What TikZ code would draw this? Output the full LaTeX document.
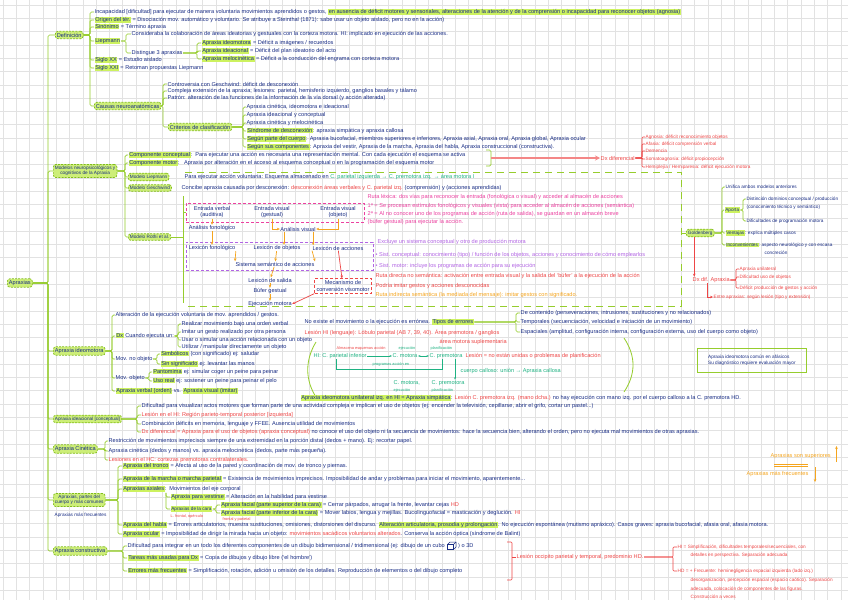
\documentclass[tikz,border=0pt]{standalone}
\usepackage{fontspec}
\setmainfont{Liberation Sans}
\usetikzlibrary{arrows.meta,calc}
\definecolor{ink}{RGB}{24,44,132}
\definecolor{gline}{RGB}{150,205,45}
\definecolor{gbd}{RGB}{130,190,25}
\definecolor{gbox}{RGB}{205,238,120}
\definecolor{hlc}{RGB}{205,242,95}
\definecolor{rd}{RGB}{238,70,70}
\definecolor{pk}{RGB}{236,64,160}
\definecolor{pu}{RGB}{178,100,228}
\definecolor{org}{RGB}{245,165,30}
\definecolor{teal2}{RGB}{30,178,130}
\definecolor{gridc}{RGB}{226,226,226}
\newcommand{\fz}{\fontsize{5.6}{6.6}\selectfont}
\newcommand{\fzs}{\fontsize{4.7}{5.5}\selectfont}
\newcommand{\fzt}{\fontsize{3.9}{4.6}\selectfont}
\newcommand{\hlt}[1]{{\setlength{\fboxsep}{0.6pt}\colorbox{hlc}{#1}}}
\begin{document}
\begin{tikzpicture}[x=1pt,y=-1pt,
 tx/.style={anchor=west,inner sep=0.5pt,text=ink,font=\fz,align=left},
 bx/.style={anchor=west,draw=gbd,dash pattern=on 2pt off 1.2pt,fill=gbox,rounded corners=2.5pt,inner sep=1.6pt,text=ink,font=\fz,align=center,line width=0.7pt},
 br/.style={draw=gline,line width=0.7pt,rounded corners=1.5pt},
 rbr/.style={draw=rd,line width=0.6pt,rounded corners=1pt},
 oa/.style={draw=org,line width=0.7pt,-{Stealth[length=3pt,width=2.6pt]}},
 ra/.style={draw=rd,line width=0.7pt,-{Stealth[length=3pt,width=2.6pt]}},
 ta/.style={draw=teal2,line width=0.6pt},
 rtx/.style={inner sep=0.4pt,text=ink,font=\fz,align=center}]
\useasboundingbox (0,0) rectangle (848,600);
\fill[white] (0,0) rectangle (848,600);
\foreach \i in {0,...,63} \draw[gridc,line width=0.5pt] ({3+13.3*\i},0) -- ({3+13.3*\i},600);
\foreach \i in {0,...,45} \draw[gridc,line width=0.5pt] (0,{5+13.3*\i}) -- (848,{5+13.3*\i});

% ---------------- trunk
\node[bx] (apx) at (7,283) {Apraxias};
\coordinate (bT) at (48,0);
\node[bx] (def) at (55,35) {Definición};
\node[bx,font=\fzs] (mod) at (53,171) {Modelos neuropsicológicos y\\cognitivos de la Apraxia};
\node[bx] (ideo) at (53,351) {Apraxia ideomotora};
\node[bx,font=\fzs] (idea) at (53,419) {Apraxia ideacional [conceptual]};
\node[bx] (cin) at (53,449) {Apraxia Cinética};
\node[bx,font=\fzs] (part) at (53,500) {Apraxias, partes del\\cuerpo y más comunes};
\node[tx,font=\fzs] (partb) at (54,515) {Apraxias más frecuentes};
\node[bx] (cons) at (53,551) {Apraxia constructiva};
\foreach \c in {def,mod,ideo,idea,cin,part,cons} \draw[br] (apx.east) -- (apx.east -| bT) |- (\c.west);

% ---------------- Definicion
\coordinate (bDef) at (90,0);
\node[tx] (d1) at (94,12) {Incapacidad [dificultad] para ejecutar de manera voluntaria movimientos aprendidos o gestos, \hlt{en ausencia de déficit motores y sensoriales, alteraciones de la atención y de la comprensión o incapacidad para reconocer objetos (agnosia)}};
\node[tx] (d2) at (94,20) {\hlt{Origen del tér.} = Disociación mov. automático y voluntario. Se atribuye a Steinthal (1871): sabe usar un objeto aislado, pero no en la acción)};
\node[tx] (d3) at (94,27) {\hlt{Sinónimo} = Término apraxia};
\node[tx] (d4) at (94,41) {\hlt{Liepmann}};
\node[tx] (d5) at (94,60) {\hlt{Siglo XX} = Estudio aislado};
\node[tx] (d6) at (94,68) {\hlt{Siglo XXI} = Retoman propuestas Liepmann};
\node[bx] (caus) at (94,106) {Causas neuroanatómicas};
\foreach \c in {d1,d2,d3,d4,d5,d6,caus} \draw[br] (def.east) -- (def.east -| bDef) |- (\c.west);

\coordinate (bLie) at (126,0);
\node[tx] (l1) at (131,34) {Consideraba la colaboración de áreas ideatorias y gestuales con la corteza motora. HI: implicado en ejecución de las acciones.};
\node[tx] (l2) at (131,53) {Distingue 3 apraxias};
\foreach \c in {l1,l2} \draw[br] (d4.east) -- (d4.east -| bLie) |- (\c.west);
\coordinate (bL2) at (197,0);
\node[tx] (l21) at (201,43) {\hlt{Apraxia ideomotora} = Déficit a imágenes / recuerdos};
\node[tx] (l22) at (201,51) {\hlt{Apraxia ideacional} = Déficit del plan ideatorio del acto};
\node[tx] (l23) at (201,59) {\hlt{Apraxia melocinética} = Déficit a la conducción del engrama con corteza motora};
\foreach \c in {l21,l22,l23} \draw[br] (l2.east) -- (l2.east -| bL2) |- (\c.west);

\coordinate (bCau) at (163,0);
\node[tx] (c1) at (167,84) {Controversia con Geschwind: déficit de desconexión};
\node[tx] (c2) at (167,91) {Compleja extensión de la apraxia; lesiones: parietal, hemisferio izquierdo, ganglios basales y tálamo};
\node[tx] (c3) at (167,98) {Patrón: alteración de las funciones de la información de la vía dorsal (y acción alterada)};
\node[bx] (crit) at (168,127) {Criterios de clasificación};
\foreach \c in {c1,c2,c3,crit} \draw[br] (caus.east) -- (caus.east -| bCau) |- (\c.west);

\coordinate (bCri) at (243,0);
\node[tx] (k1) at (246,107) {Apraxia cinética, ideomotora e ideacional};
\node[tx] (k2) at (246,115) {Apraxia ideacional y conceptual};
\node[tx] (k3) at (246,123) {Apraxia cinética y melocinética};
\node[tx] (k4) at (246,131) {\hlt{Síndrome de desconexión}: apraxia simpática y apraxia callosa};
\node[tx] (k5) at (246,139) {\hlt{Según parte del cuerpo}: Apraxia bucofacial, miembros superiores e inferiores, Apraxia axial, Apraxia oral, Apraxia global, Apraxia ocular};
\node[tx] (k6) at (246,147) {\hlt{Según sus componentes}: Apraxia del vestir, Apraxia de la marcha, Apraxia del habla, Apraxia construccional (constructiva).};
\foreach \c in {k1,k2,k3,k4,k5,k6} \draw[br] (crit.east) -- (crit.east -| bCri) |- (\c.west);

% ---------------- Modelos
\coordinate (bMod) at (125,0);
\node[tx] (m1) at (128,155) {\hlt{Componente conceptual}:\ \ Para ejecutar una acción es necesaria una representación mental. Con cada ejecución el esquema se activa};
\node[tx] (m2) at (128,163) {\hlt{Componente motor}:\ \ \ Apraxia por alteración en el acceso al esquema conceptual o en la programación del esquema motor};
\node[bx,font=\fzs] (mL) at (128,177) {Modelo Liepmann};
\node[tx] (mL1) at (184,177) {Para ejecutar acción voluntaria: Esquema almacenado en {\color{teal2}C. parietal izquierda → C. premotora izq. → área motora I}};
\node[bx,font=\fzs] (mG) at (128,188) {Modelo Geschwind};
\node[tx] (mG1) at (181,188) {Concibe apraxia causada por desconexión: {\color{rd}desconexión áreas verbales y C. parietal izq.} (comprensión) y (acciones aprendidas)};
\node[bx,font=\fzs] (mR) at (128,237) {Modelo Rothi et al.};
\foreach \c in {m1,m2,mL,mG,mR} \draw[br] (mod.east) -- (mod.east -| bMod) |- (\c.west);

% bracket -> Dx diferencial
\coordinate (bk1) at (486,150);
\coordinate (bkm) at (491,158);
\draw[br] (bk1) -- ++(5,0) -- ++(0,16) -- ++(-5,0);
\node[tx,text=rd] (dxd) at (600,158) {Dx diferencial};
\draw[draw=rd!65,line width=1.4pt,-{Stealth[length=5pt,width=5pt]}] (bkm) -- (dxd.west);
\coordinate (bDx) at (642,0);
\node[tx,font=\fzs,text=rd] (x1) at (645,137) {Agnosia: déficit reconocimiento objetos};
\node[tx,font=\fzs,text=rd] (x2) at (645,144) {Afasia: déficit comprensión verbal};
\node[tx,font=\fzs,text=rd] (x3) at (645,151) {Demencia};
\node[tx,font=\fzs,text=rd] (x4) at (645,159) {Somatoagnosia: déficit propiocepción};
\node[tx,font=\fzs,text=rd] (x5) at (645,167) {Hemiplejía / Hemiparesia: déficit ejecución motora};
\foreach \c in {x1,x2,x3,x4,x5} \draw[rbr] (dxd.east) -- (dxd.east -| bDx) |- (\c.west);

% ---------------- Rothi region
\draw[draw=gline,line width=0.9pt,dash pattern=on 7pt off 5pt] (185,172) -- (681,172) -- (681,306) -- (185,306);
\coordinate (rTop) at (183,196);
\coordinate (rBot) at (183,303);
\draw[br] (rTop) -- (rBot);
\draw[br] (mR.east) -- (mR.east -| rTop);
\node[draw=pk,line width=0.6pt,dash pattern=on 3pt off 2pt,minimum width=178pt,minimum height=19pt,anchor=north west,inner sep=0pt] (pbox) at (186,203) {};
\draw[br] (rTop |- pbox.west) -- (pbox.west);
\node[draw=pu,line width=0.6pt,dash pattern=on 3pt off 2pt,minimum width=187pt,minimum height=28pt,anchor=north west,inner sep=0pt] (ubox) at (186,242) {};
\node[rtx] (ev) at (212,212) {Entrada verbal\\(auditiva)};
\node[rtx] (eg) at (272,212) {Entrada visual\\(gestual)};
\node[rtx] (eo) at (338,212) {Entrada visual\\(objeto)};
\node[rtx] (af) at (212,228) {Análisis fonológico};
\node[rtx] (av) at (298,229) {Análisis visual};
\node[rtx] (lf) at (212,248) {Lexicón fonológico};
\node[rtx] (lo) at (277,248) {Lexicón de objetos};
\node[rtx] (la) at (338,248) {Lexicón de acciones};
\node[rtx] (ss) at (275,264) {Sistema semántico de acciones};
\node[rtx] (ls) at (270,280) {Lexicón de salida};
\node[rtx] (bg) at (270,291) {Búfer gestual};
\node[rtx] (em) at (270,304) {Ejecución motora};
\node[rtx,draw=rd,dash pattern=on 3pt off 2pt,line width=0.6pt,inner sep=2pt] (cv) at (343,286) {Mecanismo de\\conversión visomotor};
\draw[oa] (ev) -- (af);
\draw[oa] (eg.south) |- (av.west);
\draw[oa] (eo.south) |- (av.east);
\draw[oa] (af) -- (lf);
\draw[oa] ([xshift=-14pt]av.south) -- ([xshift=-14pt]av.south |- lo.north);
\draw[oa] ([xshift=-3pt]av.south east) -- ([xshift=-3pt]av.south east |- la.north);
\draw[oa] (lf.south east) -- (ss.north west);
\draw[oa] (lo) -- (ss);
\draw[oa] (la.south west) -- (ss.north east);
\draw[oa] (ss) -- (ls);
\draw[oa] (ls) -- (bg);
\draw[oa] (bg) -- (em);
\draw[ra] (la) -- (cv);
\draw[ra] (cv.south west) -- (em.east);

\node[tx,text=pk] (p0) at (367,197) {Ruta léxica: dos vías para reconocer la entrada (fonológica o visual) y acceder al almacén de acciones};
\node[tx,text=pk] (p1) at (367,206) {1ª = Se procesan estímulos fonológicos y visuales (vista) para acceder al almacén de acciones (semántica)};
\node[tx,text=pk] (p2) at (367,214) {2ª = Al no conocer uno de los programas de acción (ruta de salida), se guardan en un almacén breve};
\node[tx,text=pk] (p3) at (367,222) {(búfer gestual) para ejecutar la acción.};
\node[tx,text=pu] (u1) at (377,242) {Excluye un sistema conceptual y otro de producción motora};
\node[tx,text=pu] (u2) at (375,255) {• Sist. conceptual: conocimiento (tipo) / función de los objetos, acciones y conocimiento de cómo emplearlos};
\node[tx,text=pu] (u3) at (375,266) {• Sist. motor: incluye los programas de acción para su ejecución};
\node[tx,text=rd] (r1) at (375,276) {Ruta directa no semántica: activación entre entrada visual y la salida del `búfer' a la ejecución de la acción};
\node[tx,text=rd] (r2) at (375,286) {Podría imitar gestos y acciones desconocidas};
\node[tx,text=org] (o1) at (375,295) {Ruta indirecta semántica (la mediada del mensaje): imitar gestos con significado.};

% ---------------- Goldenberg
\coordinate (fr) at (681,233);
\node[bx,font=\fzs] (gold) at (686,233) {Goldenberg};
\draw[br] (fr) -- (gold.west);
\coordinate (bG) at (722,0);
\node[tx,font=\fzs] (g1) at (725,187) {Unifica ambos modelos anteriores};
\node[tx,font=\fzs] (gA) at (724,210) {\hlt{Aporta}};
\node[tx,font=\fzs] (g3) at (725,233) {\hlt{Ventajas}: explica múltiples casos};
\node[tx,font=\fzs] (g4) at (725,245) {\hlt{Inconvenientes}: aspecto neurológico y con escasa};
\node[tx,font=\fzs] (g4b) at (764,253) {concreción};
\foreach \c in {g1,gA,g3,g4} \draw[br] (gold.east) -- (gold.east -| bG) |- (\c.west);
\coordinate (bA) at (743,0);
\node[tx,font=\fzs] (gA1) at (746,199) {Distinción dominios conceptual / producción};
\node[tx,font=\fzs] (gA2) at (746,207) {(conocimiento técnico y semántico)};
\node[tx,font=\fzs] (gA3) at (746,221) {Dificultades de programación motora};
\foreach \c in {gA1,gA3} \draw[br] (gA.east) -- (gA.east -| bA) |- (\c.west);
\node[tx,text=rd] (dxa) at (692,280) {Dx dif. Apraxia};
\draw[ra] ([xshift=-6pt]gold.south) -- ([xshift=-6pt]gold.south |- dxa.north);
\coordinate (bDa) at (736,0);
\node[tx,font=\fzs,text=rd] (a1) at (739,269) {Apraxia unilateral};
\node[tx,font=\fzs,text=rd] (a2) at (739,277) {Dificultad uso de objetos};
\node[tx,font=\fzs,text=rd] (a3) at (739,288) {Déficit producción de gestos y acción};
\foreach \c in {a1,a2,a3} \draw[rbr] (dxa.east) -- (dxa.east -| bDa) |- (\c.west);
\node[tx,font=\fzs,text=rd] (a4) at (713,297) {Entre apraxias: según lesión (tipo y extensión)};
\draw[ra] ([xshift=-4pt]dxa.south) |- (a4.west);

% ---------------- Apraxia ideomotora
\coordinate (bI) at (112,0);
\node[tx] (i1) at (115,315) {Alteración de la ejecución voluntaria de mov. aprendidos / gestos.};
\node[tx] (i2) at (115,336) {\hlt{Dx} Cuando ejecuta un:};
\node[tx] (i3) at (115,359) {Mov. no objeto};
\node[tx] (i4) at (115,378) {Mov. objeto};
\node[tx] (i5) at (115,391) {\hlt{Apraxia verbal (orden)} vs. \hlt{Apraxia visual (imitar)}};
\foreach \c in {i1,i2,i3,i4,i5} \draw[br] (ideo.east) -- (ideo.east -| bI) |- (\c.west);
\coordinate (bI2) at (178,0);
\node[tx] (i21) at (181,324) {Realizar movimiento bajo una orden verbal};
\node[tx] (i22) at (181,332) {Imitar un gesto realizado por otra persona};
\node[tx] (i23) at (181,340) {Usar o simular una acción relacionada con un objeto};
\node[tx] (i24) at (181,347) {Utilizar / manipular directamente un objeto};
\foreach \c in {i21,i22,i23,i24} \draw[br] (i2.east) -- (i2.east -| bI2) |- (\c.west);
\coordinate (bI3) at (157,0);
\node[tx] (i31) at (160,354) {\hlt{Simbólicos} (con significado) ej: saludar};
\node[tx] (i32) at (160,364) {\hlt{Sin significado} ej: levantar las manos};
\foreach \c in {i31,i32} \draw[br] (i3.east) -- (i3.east -| bI3) |- (\c.west);
\coordinate (bI4) at (149,0);
\node[tx] (i41) at (152,372) {\hlt{Pantomima} ej: simular coger un peine para peinar};
\node[tx] (i42) at (152,381) {\hlt{Uso real} ej: sostener un peine para peinar el pelo};
\foreach \c in {i41,i42} \draw[br] (i4.east) -- (i4.east -| bI4) |- (\c.west);

% middle area
\node[tx] (n1) at (304,322) {No existe el movimiento o la ejecución es errónea. \hlt{Tipos de errores}};
\coordinate (bN) at (516,0);
\node[tx] (n11) at (520,313) {De contenido (perseveraciones, intrusiones, sustituciones y no relacionados)};
\node[tx] (n12) at (520,322) {Temporales (secuenciación, velocidad e iniciación de un movimiento)};
\node[tx] (n13) at (520,332) {Espaciales (amplitud, configuración interna, configuración externa, uso del cuerpo como objeto)};
\foreach \c in {n11,n12,n13} \draw[br] (n1.east) -- (n1.east -| bN) |- (\c.west);
\node[tx,text=rd] (n2) at (304,333) {Lesión HI (lenguaje): Lóbulo parietal (AB 7, 39, 40). Área premotora / ganglios};
\node[tx,text=rd] (n3) at (439,342) {área motora suplementaria};
\node[tx,font=\fzt,text=rd] (nE) at (336,348) {Almacena esquemas acción};
\node[tx,font=\fzt,text=teal2] (nEj) at (398,348) {ejecución};
\node[tx,font=\fzt,text=teal2] (nPl) at (430,348) {planificación};
\node[tx,text=teal2] (hP) at (313,356) {HI: C. parietal inferior};
\node[tx,text=teal2] (hM) at (392,356) {C. motora};
\node[tx,text=teal2] (hPm) at (429,356) {C. premotora};
\node[tx,text=rd] (hL) at (465,356) {Lesión = no están unidas o problemas de planificación};
\draw[ta,-{Stealth[length=2.5pt]}] (hP) -- (hM);
\draw[ta,{Stealth[length=2.5pt]}-{Stealth[length=2.5pt]}] (hM) -- (hPm);
\draw[ta] ([xshift=-4pt]hP.south) -- ++(0,10) -| ([xshift=-4pt]hPm.south);
\node[tx,font=\fzt,text=teal2] (hT) at (372,364) {programas acción en};
\node[tx,text=teal2] (hM2) at (393,383) {C. motora,};
\node[tx,text=teal2] (hPm2) at (431,383) {C. premotora};
\node[tx,font=\fzt,text=teal2] (hE2) at (393,390) {ejecución};
\node[tx,font=\fzt,text=teal2] (hP2) at (431,390) {planificación};
\draw[ta,-{Stealth[length=2.5pt]}] ([xshift=9pt]hPm.south) -- ([xshift=9pt]hPm.south |- hPm2.north);
\node[tx,text=teal2] (hC) at (460,371) {cuerpo calloso: unión → Apraxia callosa};
\draw[gline,line width=0.8pt] (316,342) .. controls (305,360) and (305,380) .. (316,397);
\draw[gline,line width=0.8pt] (624,338) .. controls (636,356) and (636,374) .. (624,392);
\node[tx] (bl) at (300,398) {\hlt{Apraxia ideomotora unilateral izq. en HI = Apraxia simpática}: {\color{rd}Lesión C. premotora izq. (mano dcha.)} no hay ejecución con mano izq. por el cuerpo calloso a la C. premotora HD.};
\node[draw=gline,line width=0.8pt,anchor=north west,minimum width=109pt,minimum height=24pt,inner sep=2pt,align=left,text=ink,font=\fzs] (gb) at (697,348) {Apraxia ideomotora común en afásicos\\Su diagnóstico requiere evaluación mayor};

% ---------------- ideacional
\coordinate (bD) at (137,0);
\node[tx] (e1) at (141,406) {Dificultad para visualizar actos motores que forman parte de una actividad compleja e implican el uso de objetos (ej: encender la televisión, cepillarse, abrir el grifo, cortar un pastel...)};
\node[tx,text=rd] (e2) at (141,415) {Lesión en el HI: Región parieto-temporal posterior [izquierda]};
\node[tx] (e3) at (141,424) {Combinación déficits en memoria, lenguaje y FFEE. Ausencia utilidad de movimientos};
\node[tx] (e4) at (141,432) {{\color{rd}Dx diferencial = Apraxia para el uso de objetos (apraxia conceptual)} no conoce el uso del objeto ni la secuencia de movimientos: hace la secuencia bien, alterando el orden, pero no ejecuta mal movimientos de otras apraxias.};
\foreach \c in {e1,e2,e3,e4} \draw[br] (idea.east) -- (idea.east -| bD) |- (\c.west);

% ---------------- cinetica
\coordinate (bC1) at (105,0);
\node[tx] (f1) at (108,441) {Restricción de movimientos imprecisos siempre de una extremidad en la porción distal (dedos + mano). Ej: recortar papel.};
\node[tx] (f2) at (108,451) {Apraxia cinética (dedos y manos) vs. apraxia melocinética (dedos, parte más pequeña).};
\node[tx,text=rd] (f3) at (108,460) {Lesiones en el HC: cortezas premotoras contralaterales.};
\foreach \c in {f1,f2,f3} \draw[br] (cin.east) -- (cin.east -| bC1) |- (\c.west);

% ---------------- partes del cuerpo
\coordinate (bP) at (118,0);
\node[tx] (q1) at (122,466) {\hlt{Apraxia del tronco} = Afecta al uso de la pared y coordinación de mov. de tronco y piernas.};
\node[tx] (q2) at (122,479) {\hlt{Apraxia de la marcha o marcha parietal} = Existencia de movimientos imprecisos. Imposibilidad de andar y problemas para iniciar el movimiento, aparentemente...};
\node[tx] (q3) at (122,489) {\hlt{Apraxias axiales}:\ \ Movimientos del eje corporal};
\node[tx] (q5) at (122,525) {\hlt{Apraxia del habla} = Errores articulatorios, muestra sustituciones, omisiones, distorsiones del discurso. \hlt{Alteración articulatoria, prosodia y prolongación}. No ejecución espontánea (mutismo apráxico). Casos graves: apraxia bucofacial, afasia oral, afasia motora.};
\node[tx] (q6) at (122,534) {\hlt{Apraxia ocular} = Imposibilidad de dirigir la mirada hacia un objeto: {\color{rd}movimientos sacádicos voluntarios alterados}. Conserva la acción óptica (síndrome de Balint)};
\foreach \c in {q1,q2,q3,q5,q6} \draw[br] (part.east) -- (part.east -| bP) |- (\c.west);
\coordinate (bQ) at (166,0);
\node[tx] (q3a) at (170,497) {\hlt{Apraxia para vestirse} = Alteración en la habilidad para vestirse};
\node[tx,font=\fzs] (cara) at (170,509) {\hlt{Apraxias de la cara}};
\node[tx,font=\fzt,text=rd] (cr1) at (170,516) {L. frontal, opérculo};
\draw[br] (bQ |- q3.south) |- (q3a.west);
\draw[br] (bQ |- q3.south) |- (cara.west);
\coordinate (bCa) at (216,0);
\node[tx] (q4a) at (220,505) {\hlt{Apraxia facial (parte superior de la cara)} = Cerrar párpados, arrugar la frente, levantar cejas {\color{rd}HD}};
\node[tx] (q4b) at (220,513) {\hlt{Apraxia facial (parte inferior de la cara)} = Mover labios, lengua y mejillas. Bucolinguofacial = masticación y deglución. {\color{rd}HI}};
\node[tx,font=\fzt,text=rd] (cr2) at (222,519) {frontal y parietal};
\foreach \c in {q4a,q4b} \draw[br] (cara.east) -- (cara.east -| bCa) |- (\c.west);

% ---------------- constructiva
\coordinate (bK) at (123,0);
\node[tx] (s1) at (127,546) {Dificultad para integrar en un todo los diferentes componentes de un dibujo bidimensional / tridimensional (ej: dibujo de un cubo};
\draw[ink,line width=0.5pt] ($(s1.east)+(2,-1.5)$) rectangle ($(s1.east)+(8,3.5)$);
\draw[ink,line width=0.5pt] ($(s1.east)+(2,-1.5)$) -- ($(s1.east)+(4.5,-4)$) -- ($(s1.east)+(10.5,-4)$) -- ($(s1.east)+(10.5,1)$) -- ($(s1.east)+(8,3.5)$);
\draw[ink,line width=0.5pt] ($(s1.east)+(8,-1.5)$) -- ($(s1.east)+(10.5,-4)$);
\node[tx] (s1b) at ($(s1.east)+(12,0)$) {) o 3D};
\node[tx] (s2) at (127,558) {\hlt{Tareas más usadas para Dx} = Copia de dibujos y dibujo libre (`el hombre')};
\node[tx] (s3) at (127,571) {\hlt{Errores más frecuentes} = Simplificación, rotación, adición u omisión de los detalles. Reproducción de elementos o del dibujo completo};
\foreach \c in {s1,s2,s3} \draw[br] (cons.east) -- (cons.east -| bK) |- (\c.west);
\coordinate (cb1) at (507,542);
\coordinate (cbm) at (512,557);
\draw[rbr] (cb1) -- ++(5,0) -- ++(0,38) -- ++(-5,0);
\node[tx,text=rd] (lc) at (516,557) {Lesión occipito parietal y temporal, predominio HD.};
\draw[rbr] (cbm) -- (lc.west);
\coordinate (bH) at (673,0);
\node[tx,font=\fzs,text=rd] (h1) at (677,547) {HI = Simplificación, dificultades temporales/secuenciales, con};
\node[tx,font=\fzs,text=rd] (h1b) at (690,555) {detalles en perspectiva. Separación adecuada};
\node[tx,font=\fzs,text=rd] (h2) at (677,571) {HD = + Frecuente: heminegligencia espacial izquierda (lado izq.)};
\node[tx,font=\fzs,text=rd] (h2b) at (690,580) {desorganización, percepción espacial (espacio caótico). Separación};
\node[tx,font=\fzs,text=rd] (h2c) at (690,589) {adecuada, colocación de componentes de las figuras.};
\node[tx,font=\fzs,text=rd] (h2d) at (690,597) {Construcción a veces};
\foreach \c in {h1,h2} \draw[rbr] (lc.east) -- (lc.east -| bH) |- (\c.west);

% ---------------- orange note
\node[tx,text=org] (oup) at (770,456) {Apraxias son superiores};
\node[tx,text=org] (odn) at (746,474) {Apraxias más frecuentes};
\draw[oa] ($(oup.east)+(5,6)$) -- ($(oup.east)+(5,-10)$);
\draw[oa] ($(odn.east)+(6,-7)$) -- ($(odn.east)+(6,8)$);
\draw[org,line width=0.6pt] ($(oup.south west)+(4,5)$) -- ++(34,0);
\draw[org,line width=0.6pt] ($(oup.south west)+(4,7)$) -- ++(34,0);
\end{tikzpicture}
\end{document}
